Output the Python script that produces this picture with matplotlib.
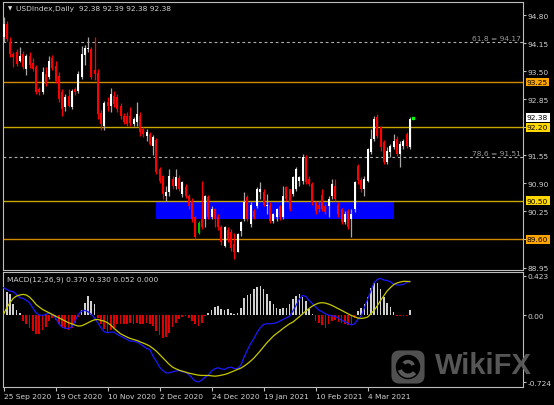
import matplotlib
matplotlib.use("Agg")
import matplotlib.pyplot as plt
import matplotlib.transforms as mtransforms
from matplotlib.patches import Rectangle, FancyBboxPatch, Circle, Wedge
import numpy as np
import pandas as pd

# ---------------- data ----------------
opens = [94.29, 94.59, 94.17, 93.89, 93.94, 93.73, 93.89, 93.55, 93.85, 93.70,
         93.59, 93.08, 93.02, 93.43, 93.36, 93.80, 93.62, 93.38, 93.01, 92.66,
         92.92, 92.66, 93.08, 93.04, 93.36, 93.87, 94.02, 94.01, 93.52, 93.45,
         92.53, 92.22, 92.78, 92.70, 92.92, 92.90, 92.70, 92.46, 92.45, 92.45,
         92.28, 92.33, 92.46, 92.15, 92.00, 92.04, 91.76, 91.90, 91.23, 91.06,
         90.60, 90.69, 91.00, 90.83, 91.02, 90.65, 90.81, 90.60, 90.48, 90.11,
         89.75, 90.07, 90.07, 90.58, 90.13, 90.30, 90.13, 89.88, 89.44, 89.83,
         89.78, 89.50, 89.32, 89.79, 90.07, 90.58, 89.95, 90.25, 90.37, 90.69,
         90.69, 90.37, 90.41, 90.02, 90.13, 90.37, 90.11, 90.81, 90.76, 90.65,
         90.76, 90.95, 90.95, 91.50, 91.00, 90.88, 90.46, 90.40, 90.62, 90.37,
         90.37, 90.60, 90.83, 90.41, 90.30, 90.00, 90.25, 90.07, 90.30, 91.30,
         90.98, 90.76, 90.95, 91.62, 91.92, 92.43, 92.20, 91.85, 91.39, 91.62,
         91.74, 91.92, 91.57, 91.76, 92.04, 91.74]
highs = [94.75, 94.66, 94.29, 93.94, 94.01, 94.06, 93.97, 93.89, 93.95, 93.80,
         93.64, 93.13, 93.60, 93.59, 93.85, 93.88, 93.73, 93.48, 93.08, 92.97,
         93.08, 93.08, 93.13, 93.50, 94.08, 94.10, 94.29, 94.06, 94.29, 93.55,
         92.60, 92.80, 92.90, 93.10, 93.05, 92.97, 92.76, 92.53, 92.55, 92.68,
         92.43, 92.78, 92.55, 92.20, 92.15, 92.10, 92.02, 91.95, 91.28, 91.10,
         90.83, 91.23, 91.06, 91.23, 91.10, 90.95, 90.88, 90.65, 90.55, 90.15,
         90.02, 90.95, 90.62, 90.62, 90.37, 90.34, 90.18, 89.93, 89.92, 89.90,
         89.85, 89.74, 89.76, 90.02, 90.69, 90.62, 90.46, 90.30, 90.81, 90.92,
         90.76, 90.65, 90.46, 90.22, 90.34, 90.41, 90.83, 90.83, 90.78, 91.08,
         91.27, 91.08, 91.57, 91.55, 91.06, 90.92, 90.50, 90.48, 90.78, 90.42,
         90.60, 91.00, 91.00, 90.46, 90.34, 90.25, 90.30, 90.30, 90.95, 91.36,
         91.05, 91.06, 91.72, 92.15, 92.45, 92.50, 92.22, 91.90, 91.74, 91.81,
         92.04, 91.99, 91.88, 91.92, 92.08, 92.43]
lows = [94.17, 94.19, 93.83, 93.59, 93.62, 93.71, 93.55, 93.40, 93.58, 93.50,
        92.97, 92.95, 92.98, 93.15, 93.31, 93.52, 93.22, 92.78, 92.46, 92.57,
        92.66, 92.62, 92.95, 92.99, 93.31, 93.65, 93.94, 93.31, 93.30, 92.40,
        92.14, 92.13, 92.58, 92.55, 92.66, 92.55, 92.40, 92.27, 92.22, 92.22,
        92.22, 92.22, 91.99, 91.97, 91.88, 91.78, 91.55, 91.12, 90.90, 90.53,
        90.48, 90.60, 90.78, 90.76, 90.72, 90.58, 90.55, 90.30, 90.00, 89.60,
        89.72, 89.85, 89.90, 90.08, 90.07, 89.90, 89.83, 89.48, 89.42, 89.55,
        89.33, 89.15, 89.30, 89.67, 90.02, 90.02, 89.88, 90.07, 90.34, 90.53,
        90.37, 90.18, 89.98, 89.97, 90.02, 90.05, 90.07, 90.48, 90.25, 90.60,
        90.72, 90.83, 90.88, 90.88, 90.83, 90.41, 90.20, 90.23, 90.25, 90.18,
        90.11, 90.53, 90.48, 90.13, 89.95, 89.95, 89.85, 89.65, 90.23, 90.88,
        90.70, 90.60, 90.92, 91.57, 91.88, 91.95, 91.64, 91.34, 91.34, 91.50,
        91.69, 91.53, 91.27, 91.70, 91.72, 91.70]
closes = [94.59, 94.24, 93.89, 93.83, 93.66, 93.85, 93.59, 93.85, 93.64, 93.55,
          93.01, 93.02, 93.48, 93.20, 93.73, 93.57, 93.27, 92.85, 92.62, 92.90,
          92.69, 93.04, 93.01, 93.43, 93.89, 94.04, 94.03, 93.36, 93.43, 92.50,
          92.27, 92.76, 92.70, 92.97, 92.73, 92.63, 92.46, 92.32, 92.28, 92.30,
          92.38, 92.50, 92.08, 92.04, 92.10, 91.82, 91.98, 91.16, 90.95, 90.65,
          90.69, 91.06, 90.83, 91.04, 90.78, 90.92, 90.60, 90.37, 90.07, 89.65,
          89.98, 89.90, 90.60, 90.13, 90.30, 90.07, 89.88, 89.53, 89.88, 89.60,
          89.40, 89.30, 89.72, 90.00, 90.46, 90.07, 90.41, 90.13, 90.76, 90.76,
          90.41, 90.41, 90.02, 90.18, 90.30, 90.11, 90.60, 90.53, 90.30, 91.04,
          91.23, 91.04, 91.50, 90.92, 90.88, 90.46, 90.25, 90.30, 90.30, 90.23,
          90.53, 90.88, 90.53, 90.18, 90.00, 90.18, 89.90, 90.18, 90.92, 90.98,
          90.76, 91.00, 91.69, 91.92, 92.39, 91.99, 91.74, 91.39, 91.64, 91.76,
          91.88, 91.57, 91.81, 91.88, 91.76, 92.38]
green_bars = [60]

macd_main = [0.296, 0.278, 0.260, 0.253, 0.224, 0.188, 0.181, 0.159, 0.134, 0.079,
             0.025, 0.000, -0.004, 0.007, 0.025, 0.007, -0.029, -0.094, -0.130, -0.144,
             -0.144, -0.130, -0.065, 0.007, 0.043, 0.051, 0.036, 0.007, -0.029, -0.083,
             -0.137, -0.181, -0.191, -0.184, -0.184, -0.209, -0.227, -0.245, -0.264, -0.282,
             -0.282, -0.292, -0.310, -0.336, -0.361, -0.372, -0.444, -0.498, -0.563, -0.599,
             -0.625, -0.625, -0.614, -0.606, -0.599, -0.614, -0.617, -0.643, -0.679, -0.715,
             -0.722, -0.704, -0.671, -0.650, -0.606, -0.581, -0.570, -0.581, -0.588, -0.570,
             -0.563, -0.578, -0.578, -0.542, -0.455, -0.379, -0.310, -0.256, -0.188, -0.137,
             -0.101, -0.094, -0.094, -0.090, -0.083, -0.065, -0.047, -0.029, -0.014, 0.043,
             0.105, 0.173, 0.213, 0.202, 0.159, 0.126, 0.090, 0.054, 0.036, 0.014,
             0.000, -0.007, -0.014, -0.032, -0.054, -0.072, -0.090, -0.108, -0.094, -0.047,
             -0.011, 0.079, 0.170, 0.260, 0.350, 0.386, 0.397, 0.379, 0.375, 0.361,
             0.336, 0.325, 0.325, 0.332, 0.352, 0.370]
macd_signal = [0.007, 0.079, 0.134, 0.181, 0.206, 0.217, 0.224, 0.217, 0.195, 0.159,
               0.116, 0.087, 0.061, 0.043, 0.025, 0.007, -0.011, -0.029, -0.047, -0.065,
               -0.083, -0.094, -0.108, -0.119, -0.116, -0.101, -0.083, -0.065, -0.051, -0.047,
               -0.058, -0.065, -0.083, -0.108, -0.144, -0.173, -0.202, -0.220, -0.238, -0.253,
               -0.264, -0.274, -0.289, -0.303, -0.318, -0.336, -0.361, -0.390, -0.426, -0.462,
               -0.498, -0.534, -0.563, -0.581, -0.596, -0.606, -0.617, -0.628, -0.635, -0.643,
               -0.650, -0.653, -0.653, -0.653, -0.657, -0.661, -0.657, -0.650, -0.643, -0.632,
               -0.617, -0.603, -0.588, -0.574, -0.552, -0.527, -0.498, -0.466, -0.426, -0.386,
               -0.343, -0.300, -0.264, -0.227, -0.199, -0.173, -0.144, -0.119, -0.094, -0.076,
               -0.047, -0.018, 0.014, 0.043, 0.072, 0.097, 0.116, 0.130, 0.134, 0.130,
               0.119, 0.105, 0.087, 0.069, 0.051, 0.032, 0.014, -0.004, -0.018, -0.032,
               -0.036, -0.032, -0.022, 0.014, 0.051, 0.101, 0.159, 0.209, 0.260, 0.296,
               0.329, 0.347, 0.357, 0.365, 0.365, 0.361]
macd_hist = [0.332, 0.253, 0.231, 0.116, 0.051, 0.018, -0.065, -0.101, -0.137, -0.173,
             -0.202, -0.202, -0.166, -0.130, -0.065, -0.029, -0.058, -0.101, -0.130, -0.144,
             -0.166, -0.137, -0.083, -0.022, 0.051, 0.134, 0.206, 0.152, 0.123, -0.029,
             -0.101, -0.155, -0.181, -0.166, -0.137, -0.101, -0.094, -0.101, -0.094, -0.083,
             -0.094, -0.083, -0.101, -0.094, -0.083, -0.101, -0.119, -0.173, -0.217, -0.245,
             -0.238, -0.191, -0.130, -0.083, -0.047, -0.022, -0.011, -0.029, -0.065, -0.101,
             -0.119, -0.083, -0.011, 0.025, 0.051, 0.087, 0.097, 0.061, 0.051, 0.061,
             0.025, 0.014, 0.025, 0.079, 0.188, 0.217, 0.231, 0.278, 0.303, 0.314,
             0.278, 0.224, 0.152, 0.116, 0.072, 0.061, 0.072, 0.072, 0.116, 0.170,
             0.206, 0.231, 0.195, 0.152, 0.061, 0.014, -0.065, -0.083, -0.108, -0.144,
             -0.101, -0.065, -0.058, -0.072, -0.083, -0.094, -0.108, -0.101, -0.029, 0.043,
             0.079, 0.116, 0.195, 0.289, 0.350, 0.347, 0.278, 0.195, 0.134, 0.087,
             0.036, -0.014, -0.014, -0.014, -0.014, 0.051]

title_text = "USDIndex,Daily  92.38 92.39 92.38 92.38"
macd_text = "MACD(12,26,9) 0.370 0.330 0.052 0.000"

price_ticks = [94.80, 94.15, 93.50, 92.85, 92.20, 91.55, 90.90, 90.25, 89.60, 88.95]
macd_ticks = [0.423, 0.0, -0.724]
macd_tick_labels = ["0.423", "0.00", "-0.724"]

level_prices = [93.25, 92.20, 90.50, 89.60]
level_line_colors = ["#d08a00", "#c8a800", "#c8a800", "#d08a00"]
level_box_colors = ["#ffa500", "#ffd700", "#ffd700", "#ffa500"]

fib_ratios = ["61.8", "78.6"]
fib_prices = [94.17, 91.51]

zone_bars = (47, 120)
zone_prices = (90.07, 90.47)

# dates: business days, no bars on 25 Dec and 1 Jan
n = len(closes)
dates = pd.bdate_range("2020-09-25", periods=n + 2)
dates = dates[~dates.isin(pd.to_datetime(["2020-12-25", "2021-01-01"]))][:n]
tick_idx = list(range(0, n, 16))
tick_labels = [f"{dates[i].day} {dates[i].strftime('%b %Y')}" for i in tick_idx]

# ---------------- figure ----------------
W, H = 554, 406
fig = plt.figure(figsize=(W / 100, H / 100), dpi=100, facecolor="black")

def fx(px):
    return px / W

def fy(py):
    return 1 - py / H

ax = fig.add_axes([fx(2.7), fy(270.5), fx(523.3) - fx(2.7), fy(2.7) - fy(270.5)])
ax2 = fig.add_axes([fx(2.7), fy(388), fx(523.3) - fx(2.7), fy(273) - fy(388)])

FS = 5.4
FG = "#d0d0d0"
SPINE = "#bdbdbd"
xlim = (-0.25, 159.9)

for a in (ax, ax2):
    a.set_facecolor("black")
    a.set_xlim(*xlim)
    for s in a.spines.values():
        s.set_color(SPINE)
        s.set_linewidth(0.8)

x = np.arange(n)
O = np.array(opens); Hh = np.array(highs); L = np.array(lows); C = np.array(closes)
up = C >= O
green = np.zeros(n, dtype=bool); green[green_bars] = True
upm = up & ~green
dnm = ~up & ~green

# zone rectangle
ax.add_patch(Rectangle((zone_bars[0] - 0.1, zone_prices[0]), zone_bars[1] - zone_bars[0] + 0.2,
                       zone_prices[1] - zone_prices[0], facecolor="#0000ff", edgecolor="none", zorder=1))

# level lines
for p, c in zip(level_prices, level_line_colors):
    ax.axhline(p, color=c, lw=1.0, zorder=2)

# fib dashed lines
for r, p in zip(fib_ratios, fib_prices):
    ax.axhline(p, color="#b0b0b0", lw=0.8, ls=(0, (2.5, 2.5)), zorder=2)
    ax.text(0.996, p + 0.025, f"{r} = {p:.2f}", transform=mtransforms.blended_transform_factory(ax.transAxes, ax.transData),
            ha="right", va="bottom", fontsize=FS, color="#9a9a9a", zorder=6)

# candles
body_b = np.minimum(O, C)
body_h = np.maximum(np.abs(C - O), 0.015)
ax.vlines(x[upm], L[upm], Hh[upm], color="#a8a8a8", lw=0.9, zorder=3)
ax.vlines(x[dnm], L[dnm], Hh[dnm], color="#ff0000", lw=0.9, zorder=3)
ax.vlines(x[green], L[green], Hh[green], color="#00c000", lw=0.9, zorder=3)
ax.bar(x[upm], body_h[upm], bottom=body_b[upm], width=0.62, color="white", edgecolor="none", zorder=4)
ax.bar(x[dnm], body_h[dnm], bottom=body_b[dnm], width=0.62, color="#ff0000", edgecolor="none", zorder=4)
ax.bar(x[green], body_h[green], bottom=body_b[green], width=0.62, color="#00c000", edgecolor="none", zorder=4)
ax.plot([x[-1] + 1.0], [closes[-1] + 0.03], marker="s", ms=1.6, color="#00ff00", zorder=5)

ax.set_ylim(88.904, 95.109)
ax.yaxis.tick_right()
ax.set_yticks(price_ticks)
ax.set_yticklabels([f"{v:.2f}" for v in price_ticks])
ax.tick_params(axis="y", length=2, width=0.8, color=SPINE, labelcolor=FG, labelsize=FS, pad=1)
ax.set_xticks([])

# right-side price boxes
tr = mtransforms.blended_transform_factory(ax.transAxes, ax.transData)
for p, c in zip(level_prices, level_box_colors):
    ax.text(1.0071, p, f"{p:.2f}", transform=tr, ha="left", va="center", fontsize=FS, color="black",
            bbox=dict(boxstyle="square,pad=0.18", fc=c, ec="none"), zorder=10, clip_on=False)
ax.text(1.0071, closes[-1] + 0.05, f"{closes[-1]:.2f}", transform=tr, ha="left", va="center", fontsize=FS,
        color="black", bbox=dict(boxstyle="square,pad=0.18", fc="white", ec="none"), zorder=9, clip_on=False)

# ---------------- MACD panel ----------------
hist = np.array(macd_hist)
ax2.bar(x, hist, width=0.5, color=np.where(hist >= 0, "#d0d0d0", "#e00000"), edgecolor="none", zorder=2)
ax2.plot(x, macd_main, color="#1a1aff", lw=0.9, zorder=3)
ax2.plot(x, macd_signal, color="#c8c800", lw=0.9, zorder=3)
ax2.set_ylim(-0.778, 0.466)
ax2.yaxis.tick_right()
ax2.set_yticks(macd_ticks)
ax2.set_yticklabels(macd_tick_labels)
ax2.tick_params(axis="y", length=2, width=0.8, color=SPINE, labelcolor=FG, labelsize=FS, pad=1)
ax2.set_xticks(tick_idx)
ax2.set_xticklabels(tick_labels, ha="left")
ax2.tick_params(axis="x", length=3, width=0.8, color=SPINE, labelcolor=FG, labelsize=FS, pad=1.5)

# texts
fig.text(fx(8), fy(9), "\u25bc", fontsize=4, color="#d8d8d8", va="center", ha="left")
fig.text(fx(16), fy(9), title_text, fontsize=FS, color=FG, va="center", ha="left")
fig.text(fx(7), fy(280), macd_text, fontsize=FS, color=FG, va="center", ha="left")

# watermark
wax = fig.add_axes([fx(390), fy(386), fx(426) - fx(390), fy(350) - fy(386)])
wax.set_axis_off()
wax.set_xlim(0, 1); wax.set_ylim(0, 1)
wax.add_patch(FancyBboxPatch((0.04, 0.04), 0.92, 0.92, boxstyle="round,pad=0,rounding_size=0.22",
                             fc="#5a5a5a", ec="none", alpha=0.9))
wax.add_patch(Circle((0.5, 0.5), 0.34, fc="black", ec="none"))
wax.add_patch(Wedge((0.5, 0.5), 0.30, 200, 320, width=0.12, fc="#5a5a5a", ec="none"))
wax.add_patch(Wedge((0.5, 0.5), 0.20, 20, 140, width=0.10, fc="#5a5a5a", ec="none"))
fig.text(fx(435), fy(366), "WikiFX", fontsize=21, fontweight="bold", color="#5c5c5c",
         va="center", ha="left", family="Liberation Sans", alpha=0.95)

fig.savefig("out.png", dpi=100, facecolor="black")
